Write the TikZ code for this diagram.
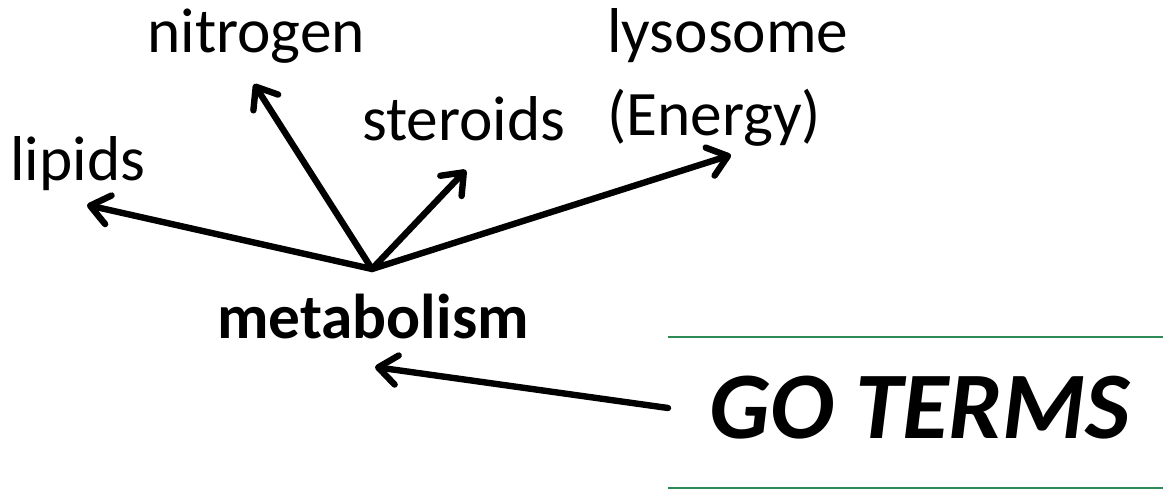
\documentclass[tikz,border=0pt]{standalone}
\usepackage{fontspec}
\setmainfont{Carlito}
\usetikzlibrary{arrows.meta}
\definecolor{rulegreen}{RGB}{46,139,87}
\begin{document}
\begin{tikzpicture}[x=0.75pt,y=-0.75pt,
  term/.style={inner sep=0pt,anchor=base west,font=\fontsize{47.5}{57}\selectfont},
  link/.style={line width=4.8pt,line cap=round,
    -{Straight Barb[length=14pt,width=22pt,line cap=round,line join=round]}}]
\useasboundingbox (0,0) rectangle (1163,493);
% hub and labels
\coordinate (hub) at (372,269);
\node[term] (lipids) at (10,180) {lipids};
\node[term] (nitrogen) at (147,52) {nitrogen};
\node[term] (steroids) at (362,140) {steroids};
\node[term] (lyso) at (607,52) {lysosome};
\node[term] (energy) at (607,135) {(Energy)};
\node[term,font=\fontsize{47.5}{57}\selectfont\bfseries] (meta) at (217,338) {metabolism};
\node[term,font=\fontsize{71.5}{86}\selectfont\bfseries\itshape] (go) at (709,438) {GO TERMS};
% arrow end points
\coordinate (tL) at (87,205);
\coordinate (tN) at (254,84);
\coordinate (tS) at (466,170);
\coordinate (tY) at (731,155);
\coordinate (tM) at (375,367);
\coordinate (sG) at (668,408);
\draw[link] (hub) -- (tL);
\draw[link] (hub) -- (tN);
\draw[link] (hub) -- (tS);
\draw[link] (hub) -- (tY);
\draw[link] (sG) -- (tM);
% green rules around the heading
\coordinate (r1a) at (668,337);
\coordinate (r1b) at (1163,337);
\coordinate (r2a) at (668,488);
\coordinate (r2b) at (1163,488);
\draw[rulegreen,line width=1pt] (r1a) -- (r1b);
\draw[rulegreen,line width=1pt] (r2a) -- (r2b);
\end{tikzpicture}
\end{document}
